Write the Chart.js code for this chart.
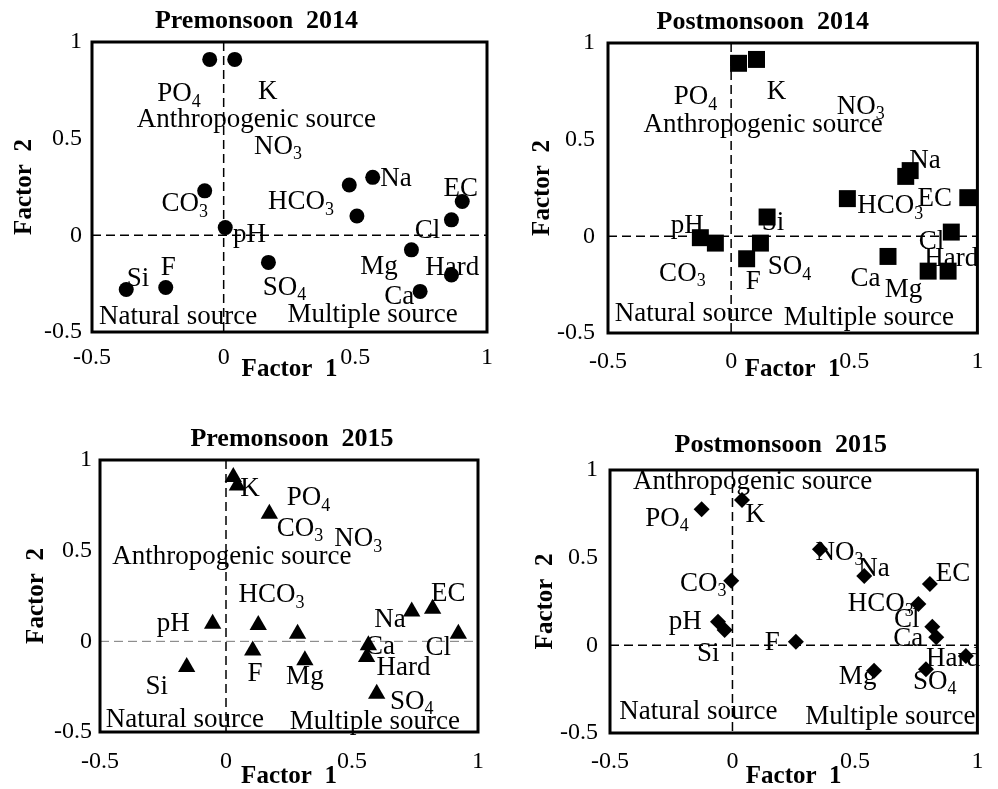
<!DOCTYPE html>
<html>
<head>
<meta charset="utf-8">
<title>Factor loadings of groundwater parameters</title>
<script src="https://cdn.jsdelivr.net/npm/chart.js@4.4.0/dist/chart.umd.min.js"></script>
<style>
  body { margin: 0; background: #fff; }
  #wrap { position: relative; width: 998px; height: 789px; overflow: hidden; }
  #wrap canvas { position: absolute; }
</style>
</head>
<body>
<div id="wrap">
  <canvas id="pre14"></canvas>
  <canvas id="post14"></canvas>
  <canvas id="pre15"></canvas>
  <canvas id="post15"></canvas>
</div>
<script>
// parameters, same order in every series below
const params = ['pH', 'EC', 'Ca', 'Mg', 'Na', 'K', 'HCO3', 'CO3', 'Cl', 'SO4', 'NO3', 'PO4', 'F', 'Si', 'Hard'];
const sourceGroups = ['Anthropogenic source', 'Natural source', 'Multiple source'];
const axisTicks = [-0.5, 0, 0.5, 1];
const axisTickLabels = ['-0.5', '0', '0.5', '1'];

// factor 1 / factor 2 loadings
const pre14F1 = [0.006, 0.906, 0.746, 0.713, 0.566, 0.042, 0.477, -0.072, 0.865, 0.17, 0.506, -0.053, -0.22, -0.37, 0.865];
const pre14F2 = [0.04, 0.175, -0.29, -0.075, 0.30, 0.91, 0.26, 0.23, 0.08, -0.14, 0.10, 0.91, -0.27, -0.28, -0.205];
const post14F1 = [-0.125, 0.961, 0.637, 0.80, 0.727, 0.103, 0.709, -0.064, 0.894, 0.119, 0.472, 0.03, 0.063, 0.146, 0.881];
const post14F2 = [-0.007, 0.20, -0.104, -0.18, 0.34, 0.915, 0.31, -0.035, 0.022, -0.035, 0.195, 0.895, -0.116, 0.10, -0.18];
const pre15F1 = [-0.053, 0.82, 0.565, 0.313, 0.737, 0.045, 0.128, 0.172, 0.922, 0.598, 0.284, 0.029, 0.106, -0.156, 0.558];
const pre15F2 = [0.097, 0.18, -0.022, -0.105, 0.165, 0.86, 0.09, 0.704, 0.042, -0.289, 0.042, 0.906, -0.05, -0.142, -0.087];
const post15F1 = [-0.059, 0.806, 0.832, 0.578, 0.538, 0.039, 0.759, -0.005, 0.816, 0.79, 0.357, -0.126, 0.259, -0.032, 0.953];
const post15F2 = [0.135, 0.35, 0.046, -0.145, 0.395, 0.829, 0.236, 0.369, 0.106, -0.137, 0.548, 0.776, 0.021, 0.087, -0.061];

// where each name is written (axis units), kept apart from the loadings
const pre14LabelX = [0.098, 0.90, 0.667, 0.59, 0.654, 0.167, 0.294, -0.148, 0.774, 0.231, 0.206, -0.17, -0.21, -0.325, 0.868];
const pre14LabelY = [0.01, 0.25, -0.31, -0.155, 0.30, 0.75, 0.18, 0.17, 0.03, -0.26, 0.467, 0.74, -0.16, -0.215, -0.16];
const pre14GroupX = [0.124, -0.173, 0.566];
const pre14GroupY = [0.605, -0.41, -0.40];

const post14LabelX = [-0.178, 0.827, 0.546, 0.70, 0.787, 0.184, 0.646, -0.198, 0.814, 0.237, 0.526, -0.145, 0.09, 0.17, 0.894];
const post14LabelY = [0.062, 0.204, -0.21, -0.27, 0.40, 0.756, 0.166, -0.185, -0.02, -0.15, 0.68, 0.73, -0.228, 0.08, -0.107];
const post14GroupX = [0.13, -0.151, 0.559];
const post14GroupY = [0.584, -0.392, -0.414];

const pre15LabelX = [-0.209, 0.882, 0.611, 0.313, 0.651, 0.095, 0.181, 0.294, 0.842, 0.737, 0.525, 0.327, 0.115, -0.275, 0.704];
const pre15LabelY = [0.108, 0.274, -0.02, -0.186, 0.127, 0.85, 0.265, 0.632, -0.026, -0.324, 0.574, 0.80, -0.168, -0.241, -0.136];
const pre15GroupX = [0.023, -0.163, 0.591];
const pre15GroupY = [0.476, -0.425, -0.434];

const post15LabelX = [-0.193, 0.90, 0.718, 0.511, 0.578, 0.093, 0.605, -0.119, 0.712, 0.826, 0.437, -0.267, 0.162, -0.099, 0.90];
const post15LabelY = [0.144, 0.42, 0.046, -0.169, 0.448, 0.753, 0.249, 0.363, 0.154, -0.198, 0.54, 0.734, 0.026, -0.036, -0.065];
const post15GroupX = [0.082, -0.139, 0.645];
const post15GroupY = [0.943, -0.369, -0.398];

const SERIF = '"Liberation Serif", "Times New Roman", serif';
Chart.defaults.font.family = SERIF;
Chart.defaults.color = '#000';

// page layout of the four panels: canvas box, plot frame and text offsets
const panels = [
  { id: 'pre14', title: 'Premonsoon  2014', shape: 'circle', radius: 7.5,
    f1: pre14F1, f2: pre14F2, lx: pre14LabelX, ly: pre14LabelY, gx: pre14GroupX, gy: pre14GroupY,
    canvas: [0, 0, 505, 392], frame: [92, 42, 487, 332],
    yTitleX: 25, yTickRight: 82, xTickY: 358, xTitleY: 370, titleDx: -33, titleDy: 21,
    hLine: ['#000', 1.5] },
  { id: 'post14', title: 'Postmonsoon  2014', shape: 'rect', radius: 12,
    f1: post14F1, f2: post14F2, lx: post14LabelX, ly: post14LabelY, gx: post14GroupX, gy: post14GroupY,
    canvas: [510, 0, 488, 392], frame: [608, 43, 981, 333],
    yTitleX: 543, yTickRight: 595, xTickY: 362, xTitleY: 370, titleDx: -30, titleDy: 21,
    hLine: ['#000', 1.5] },
  { id: 'pre15', title: 'Premonsoon  2015', shape: 'triangle', radius: 10,
    f1: pre15F1, f2: pre15F2, lx: pre15LabelX, ly: pre15LabelY, gx: pre15GroupX, gy: pre15GroupY,
    canvas: [0, 395, 505, 394], frame: [100, 460, 478, 732],
    yTitleX: 37, yTickRight: 92, xTickY: 762, xTitleY: 777, titleDx: 3, titleDy: 21,
    hLine: ['#777', 1] },
  { id: 'post15', title: 'Postmonsoon  2015', shape: 'rectRot', radius: 8,
    f1: post15F1, f2: post15F2, lx: post15LabelX, ly: post15LabelY, gx: post15GroupX, gy: post15GroupY,
    canvas: [510, 395, 488, 394], frame: [610, 470, 983, 733],
    yTitleX: 546, yTickRight: 598, xTickY: 762, xTitleY: 777, titleDx: -13, titleDy: 25,
    hLine: ['#000', 1.5] }
];

// text with a trailing subscript digit (SO4, HCO3 ...), centred on (cx, cy)
function drawName(ctx, text, cx, cy, size) {
  const m = text.match(/^(.*?)(\d)$/);
  const main = m ? m[1] : text;
  const sub = m ? m[2] : '';
  const subSize = Math.round(size * 0.68);
  ctx.font = size + 'px ' + SERIF;
  const w1 = ctx.measureText(main).width;
  ctx.font = subSize + 'px ' + SERIF;
  const w2 = sub ? ctx.measureText(sub).width : 0;
  const left = cx - (w1 + w2) / 2;
  const base = cy + size * 0.33;
  ctx.textAlign = 'left';
  ctx.textBaseline = 'alphabetic';
  ctx.font = size + 'px ' + SERIF;
  ctx.fillText(main, left, base);
  if (sub) {
    ctx.font = subSize + 'px ' + SERIF;
    ctx.fillText(sub, left + w1, base + size * 0.2);
  }
}

const decor = {
  id: 'decor',
  beforeDatasetsDraw(chart, args, o) {
    const { ctx, chartArea: a, scales: { x, y } } = chart;
    const x0 = x.getPixelForValue(0);
    const y0 = y.getPixelForValue(0);
    ctx.save();
    ctx.setLineDash([9, 5]);
    ctx.strokeStyle = '#000';
    ctx.lineWidth = 1.5;
    ctx.beginPath();
    ctx.moveTo(x0, a.top);
    ctx.lineTo(x0, a.bottom);
    ctx.stroke();
    ctx.strokeStyle = o.hLine[0];
    ctx.lineWidth = o.hLine[1];
    ctx.beginPath();
    ctx.moveTo(a.left, y0);
    ctx.lineTo(a.right, y0);
    ctx.stroke();
    ctx.restore();
  },
  afterDatasetsDraw(chart, args, o) {
    const { ctx, scales: { x, y } } = chart;
    ctx.save();
    ctx.fillStyle = '#000';
    params.forEach((p, i) => {
      drawName(ctx, p, x.getPixelForValue(o.lx[i]), y.getPixelForValue(o.ly[i]), 27);
    });
    sourceGroups.forEach((g, i) => {
      drawName(ctx, g, x.getPixelForValue(o.gx[i]), y.getPixelForValue(o.gy[i]), 27);
    });
    ctx.restore();
  },
  afterDraw(chart, args, o) {
    const { ctx, chartArea: a } = chart;
    ctx.save();
    ctx.strokeStyle = '#000';
    ctx.lineWidth = 3;
    ctx.strokeRect(a.left, a.top, a.right - a.left, a.bottom - a.top);
    // panel heading
    ctx.fillStyle = '#000';
    ctx.font = 'bold 26px ' + SERIF;
    ctx.textAlign = 'center';
    ctx.textBaseline = 'middle';
    ctx.fillText(o.title, (a.left + a.right) / 2 + o.titleDx, a.top - o.titleDy);
    ctx.restore();
  }
};

panels.forEach(p => {
  const [cl, ct, cw, ch] = p.canvas;
  const [L, T, R, B] = p.frame;
  const el = document.getElementById(p.id);
  el.width = cw;
  el.height = ch;
  el.style.left = cl + 'px';
  el.style.top = ct + 'px';

  const yWidth = L - cl;
  const xHeight = ct + ch - B;

  new Chart(el, {
    type: 'scatter',
    data: {
      datasets: [{
        label: p.title,
        data: p.f1.map((v, i) => ({ x: v, y: p.f2[i] })),
        pointStyle: p.shape,
        pointRadius: p.radius,
        pointHoverRadius: p.radius,
        backgroundColor: '#000',
        borderColor: '#000',
        borderWidth: 0,
        clip: false
      }]
    },
    options: {
      responsive: false,
      animation: false,
      events: [],
      layout: { padding: { left: 0, top: T - ct, right: cl + cw - R, bottom: 0 } },
      plugins: {
        legend: { display: false },
        tooltip: { enabled: false },
        decor: {
          title: p.title, titleDx: p.titleDx, titleDy: p.titleDy, hLine: p.hLine,
          lx: p.lx, ly: p.ly, gx: p.gx, gy: p.gy
        }
      },
      scales: {
        x: {
          type: 'linear',
          position: 'bottom',
          min: axisTicks[0],
          max: axisTicks[axisTicks.length - 1],
          afterBuildTicks: s => { s.ticks = axisTicks.map(v => ({ value: v })); },
          afterFit: s => { s.height = xHeight; },
          grid: { display: false, drawTicks: false },
          border: { display: false },
          ticks: {
            padding: p.xTickY - B - 14.4,
            font: { size: 24 },
            maxRotation: 0,
            callback: (v, i) => axisTickLabels[i]
          },
          title: {
            display: true,
            text: 'Factor  1',
            font: { size: 25, weight: 'bold' },
            padding: { top: 0, bottom: ct + ch - p.xTitleY - 15 }
          }
        },
        y: {
          type: 'linear',
          position: 'left',
          min: axisTicks[0],
          max: axisTicks[axisTicks.length - 1],
          afterBuildTicks: s => { s.ticks = axisTicks.map(v => ({ value: v })); },
          afterFit: s => { s.width = yWidth; },
          grid: { display: false, drawTicks: false },
          border: { display: false },
          ticks: {
            padding: L - p.yTickRight,
            font: { size: 24 },
            callback: (v, i) => axisTickLabels[i]
          },
          title: {
            display: true,
            text: 'Factor  2',
            font: { size: 25, weight: 'bold' },
            padding: { top: p.yTitleX - cl - 15, bottom: 0 }
          }
        }
      }
    },
    plugins: [decor]
  });
});
</script>
</body>
</html>
